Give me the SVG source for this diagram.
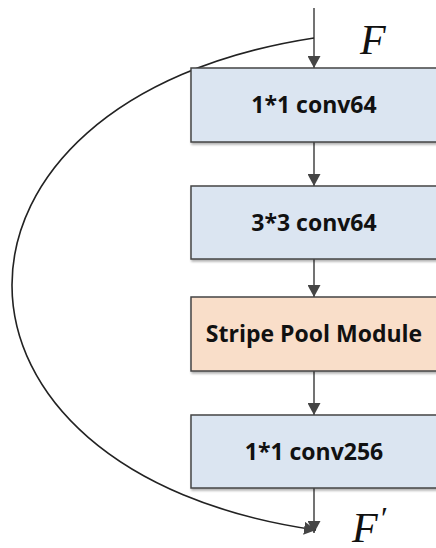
<svg xmlns="http://www.w3.org/2000/svg" width="436" height="548" viewBox="0 0 436 548">
<style>
.box{stroke:#454545;stroke-width:1.5}
.blue{fill:#dbe5f1}
.orange{fill:#f9dec9}
.lbl{font-family:"Open Sans","Liberation Sans",sans-serif;font-weight:bold;font-size:23px;fill:#111;text-anchor:middle}
.math{font-family:"Liberation Serif",serif;font-style:italic;font-size:42px;fill:#111}
.conn{stroke:#454545;stroke-width:1.5;fill:none}
.curve{stroke:#222;stroke-width:1.6;fill:none}
</style>
<defs>
<marker id="ah" viewBox="0 0 12 13" refX="12" refY="6.5" markerWidth="12" markerHeight="13" markerUnits="userSpaceOnUse" orient="auto">
<path d="M0,0 L12,6.5 L0,13 Z" fill="#454545"/>
</marker>
<filter id="sh" x="-5%" y="-10%" width="115%" height="130%">
<feDropShadow dx="1" dy="2" stdDeviation="1.2" flood-color="#000" flood-opacity="0.3"/>
</filter>
</defs>
<g id="connectors">
<line class="conn" x1="314" y1="8" x2="314" y2="68" marker-end="url(#ah)"/>
<line class="conn" x1="314" y1="142" x2="314" y2="186" marker-end="url(#ah)"/>
<line class="conn" x1="314" y1="259" x2="314" y2="297" marker-end="url(#ah)"/>
<line class="conn" x1="314" y1="371" x2="314" y2="415" marker-end="url(#ah)"/>
<line class="conn" x1="314" y1="488" x2="314" y2="533" marker-end="url(#ah)"/>
<path class="curve" d="M314,38 C-89,100 -89,472 316,530" marker-end="url(#ah)"/>
</g>
<g id="node1">
<rect class="box blue" x="191" y="68" width="250" height="74" filter="url(#sh)"/>
<text class="lbl" x="314" y="113">1*1 conv64</text>
</g>
<g id="node2">
<rect class="box blue" x="191" y="186" width="250" height="73" filter="url(#sh)"/>
<text class="lbl" x="314" y="231">3*3 conv64</text>
</g>
<g id="node3">
<rect class="box orange" x="191" y="297" width="250" height="74" filter="url(#sh)"/>
<text class="lbl" x="314" y="342">Stripe Pool Module</text>
</g>
<g id="node4">
<rect class="box blue" x="191" y="415" width="250" height="73" filter="url(#sh)"/>
<text class="lbl" x="314" y="460">1*1 conv256</text>
</g>
<g id="labels">
<text class="math" x="352" y="542">F<tspan x="379" dy="-13" font-size="32">′</tspan></text>
<text class="math" x="360" y="54">F</text>
</g>
</svg>
